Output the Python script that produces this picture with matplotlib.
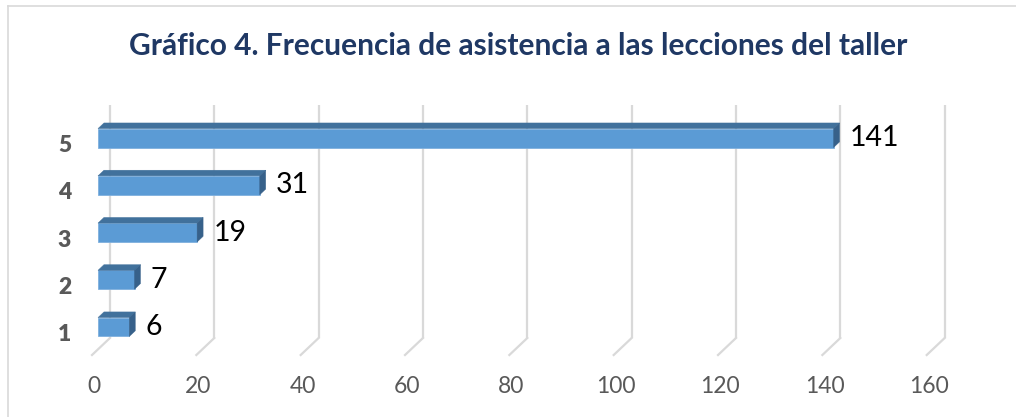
import matplotlib
matplotlib.use("Agg")
import matplotlib.pyplot as plt
from matplotlib.patches import Polygon
from matplotlib.lines import Line2D
import numpy as np

# Data
categories = ["1", "2", "3", "4", "5"]
values = [6, 7, 19, 31, 141]
x_ticks = [0, 20, 40, 60, 80, 100, 120, 140, 160]
title = "Gráfico 4. Frecuencia de asistencia a las lecciones del taller"

FONT = "Lato"
W, H = 1016, 417
fig = plt.figure(figsize=(W / 100, H / 100), dpi=100)
fig.patch.set_facecolor("white")

# Chart border (top and left edges)
fig.add_artist(Line2D([8 / W, 8 / W], [0, 1 - 6 / H], transform=fig.transFigure,
                      color="#D9D9D9", lw=1.2))
fig.add_artist(Line2D([8 / W, 1], [1 - 6 / H, 1 - 6 / H], transform=fig.transFigure,
                      color="#D9D9D9", lw=1.2))

# Axes in the front plane of the 3D box
ax_left, ax_right = 92, 928.8
ax_bottom, ax_top = 355, 122
ax = fig.add_axes([ax_left / W, (H - ax_bottom) / H,
                   (ax_right - ax_left) / W, (ax_bottom - ax_top) / H])
ymin, ymax = 0.528, 5.46
ax.set_xlim(0, 160)
ax.set_ylim(ymin, ymax)
for s in ax.spines.values():
    s.set_visible(False)
ax.set_facecolor("none")

# depth of the 3D box in data units
DX = 18 / 5.23
DY = 17 / 47.25

# gridlines: vertical on the back wall, slanted across the floor
grid_c = "#D9D9D9"
for v in x_ticks:
    ax.plot([v + DX, v + DX], [ymin + DY, ymax + DY], color=grid_c, lw=1.6,
            zorder=1, solid_capstyle="butt", clip_on=False)
    ax.plot([v, v + DX], [ymin, ymin + DY], color=grid_c, lw=1.6,
            zorder=1, clip_on=False)

# bars sit in the middle third of the depth
cats = np.arange(1, len(categories) + 1)
bh = 0.40
fx, fy = DX / 3, DY / 3
front_c, top_c, side_c = "#5B9BD5", "#41719C", "#37618A"
bars = ax.barh(cats + fy, values, left=fx, height=bh, color=front_c,
               edgecolor="#7FB0DE", linewidth=0.6, zorder=3)
for c, v in zip(cats, values):
    y0 = c + fy - bh / 2
    y1 = c + fy + bh / 2
    xl, xr = fx, fx + v
    top = Polygon([(xl, y1), (xl + fx, y1 + fy), (xr + fx, y1 + fy), (xr, y1)],
                  closed=True, facecolor=top_c, edgecolor=top_c, lw=0.3, zorder=3)
    side = Polygon([(xr, y0), (xr, y1), (xr + fx, y1 + fy), (xr + fx, y0 + fy)],
                   closed=True, facecolor=side_c, edgecolor=side_c, lw=0.3, zorder=3)
    ax.add_patch(top)
    ax.add_patch(side)
    ax.text(xr + fx + 2.0, c + fy, str(v), ha="left", va="center",
            fontsize=20.5, family=FONT, color="black", zorder=4)

# category labels
ax.set_yticks(cats)
ax.set_yticklabels(categories, fontsize=16.5, family=FONT, fontweight="heavy",
                   color="#595959")
ax.tick_params(axis="y", length=0, pad=15)

# value axis labels
ax.set_xticks([v + 0.4 for v in x_ticks])
ax.set_xticklabels([str(v) for v in x_ticks], fontsize=16.5, family=FONT,
                   color="#595959")
ax.tick_params(axis="x", length=0, pad=15)

fig.text(518 / W, 1 - 55 / H, title, ha="center", va="baseline",
         fontsize=21.5, family=FONT, fontweight="bold", color="#1F3864")

fig.savefig("out.png", dpi=100)
